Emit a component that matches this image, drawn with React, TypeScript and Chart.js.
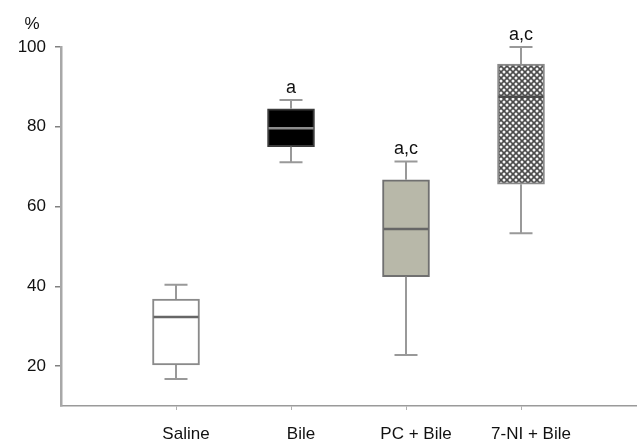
import React, { useEffect, useRef } from "react";
import { Chart, registerables } from "chart.js";

Chart.register(...registerables);

const categories = ["Saline", "Bile", "PC + Bile", "7-NI + Bile"];
const whiskerMin = [16.8, 71.1, 22.8, 53.3];
const q1 = [20.3, 75.0, 42.4, 65.6];
const median = [32.3, 79.6, 54.4, 87.5];
const q3 = [36.8, 84.5, 66.7, 95.7];
const whiskerMax = [40.4, 86.7, 71.3, 100];
const annotations = ["", "a", "a,c", "a,c"];
const yTicks = [20, 40, 60, 80, 100];

const FONT = "'Liberation Sans', Arial, sans-serif";

function makePattern(): CanvasPattern | string {
  const c = document.createElement("canvas");
  c.width = 6;
  c.height = 6;
  const g = c.getContext("2d");
  if (!g) return "#777";
  g.fillStyle = "#4a4a4a";
  g.fillRect(0, 0, 6, 6);
  g.fillStyle = "#f4f4f4";
  const pts = [
    [0, 0],
    [6, 0],
    [0, 6],
    [6, 6],
    [3, 3],
  ];
  for (const [x, y] of pts) {
    g.beginPath();
    g.arc(x, y, 1.5, 0, Math.PI * 2);
    g.fill();
  }
  const p = g.createPattern(c, "repeat");
  return p || "#777";
}

export default function App() {
  const ref = useRef<HTMLCanvasElement | null>(null);

  useEffect(() => {
    if (!ref.current) return;
    const pattern = makePattern();
    const fills = ["#ffffff", "#000000", "#b8b8a9", pattern];
    const borders = ["#8a8a8a", "#3a3a3a", "#707070", "#8a8a8a"];
    const medianColors = ["#666666", "#8c8c8c", "#666666", "#4a4a4a"];

    const boxPlugin = {
      id: "boxExtras",
      afterDatasetsDraw(chart: any) {
        const ctx = chart.ctx;
        const xs = chart.scales.x;
        const ys = chart.scales.y;
        ctx.save();
        for (let i = 0; i < categories.length; i++) {
          const cx = xs.getPixelForValue(i + 1);
          const capHalf = 11.5;
          const boxHalf = 23.5;
          ctx.strokeStyle = "#999999";
          ctx.lineWidth = 2;
          ctx.beginPath();
          ctx.moveTo(cx, ys.getPixelForValue(q3[i]));
          ctx.lineTo(cx, ys.getPixelForValue(whiskerMax[i]));
          ctx.moveTo(cx - capHalf, ys.getPixelForValue(whiskerMax[i]));
          ctx.lineTo(cx + capHalf, ys.getPixelForValue(whiskerMax[i]));
          ctx.moveTo(cx, ys.getPixelForValue(q1[i]));
          ctx.lineTo(cx, ys.getPixelForValue(whiskerMin[i]));
          ctx.moveTo(cx - capHalf, ys.getPixelForValue(whiskerMin[i]));
          ctx.lineTo(cx + capHalf, ys.getPixelForValue(whiskerMin[i]));
          ctx.stroke();
          ctx.strokeStyle = medianColors[i];
          ctx.lineWidth = 2.5;
          ctx.beginPath();
          const my = ys.getPixelForValue(median[i]);
          ctx.moveTo(cx - boxHalf + 1, my);
          ctx.lineTo(cx + boxHalf - 1, my);
          ctx.stroke();
          if (annotations[i]) {
            ctx.fillStyle = "#111111";
            ctx.font = `18px ${FONT}`;
            ctx.textAlign = "center";
            ctx.textBaseline = "alphabetic";
            ctx.fillText(annotations[i], cx, ys.getPixelForValue(whiskerMax[i]) - 7);
          }
        }
        ctx.fillStyle = "#111111";
        ctx.font = `17px ${FONT}`;
        ctx.textAlign = "center";
        ctx.textBaseline = "alphabetic";
        ctx.fillText("%", 32, 29);
        ctx.restore();
      },
    };

    const chart = new Chart(ref.current, {
      type: "bar",
      data: {
        datasets: [
          {
            data: categories.map((_, i) => ({ x: i + 1, y: [q1[i], q3[i]] })) as any,
            backgroundColor: fills as any,
            borderColor: borders,
            borderWidth: 2,
            borderSkipped: false,
            barThickness: 47,
          },
        ],
      },
      options: {
        animation: false,
        responsive: false,
        events: [],
        layout: { padding: { top: 47, right: 4, left: 0, bottom: 0 } },
        plugins: { legend: { display: false }, tooltip: { enabled: false } },
        scales: {
          x: {
            type: "linear",
            min: 0,
            max: 5,
            offset: false,
            afterBuildTicks: (scale: any) => {
              scale.ticks = categories.map((_, i) => ({ value: i + 1 }));
            },
            afterFit: (scale: any) => {
              scale.height = 37;
            },
            ticks: {
              autoSkip: false,
              maxRotation: 0,
              padding: 14,
              labelOffset: 10,
              color: "#111111",
              font: { family: FONT, size: 17 },
              callback: (v: any) => categories[Number(v) - 1] ?? "",
            },
            grid: { drawOnChartArea: false, offset: false, tickLength: 4, color: "#b0b0b0", lineWidth: 1 },
            border: { color: "#9a9a9a", width: 1.5 },
          },
          y: {
            type: "linear",
            min: 10,
            max: 100,
            afterBuildTicks: (scale: any) => {
              scale.ticks = yTicks.map((v) => ({ value: v }));
            },
            afterFit: (scale: any) => {
              scale.width = 61;
            },
            ticks: {
              padding: 9,
              color: "#111111",
              font: { family: FONT, size: 17 },
            },
            grid: { drawOnChartArea: false, tickLength: 6, color: "#808080", lineWidth: 1.5 },
            border: { color: "#a8a8a8", width: 2.5 },
          },
        },
      },
      plugins: [boxPlugin],
    });
    return () => chart.destroy();
  }, []);

  return (
    <div style={{ position: "fixed", left: 0, top: 0, width: 640, height: 443, background: "#ffffff" }}>
      <canvas ref={ref} width={640} height={443} />
    </div>
  );
}
